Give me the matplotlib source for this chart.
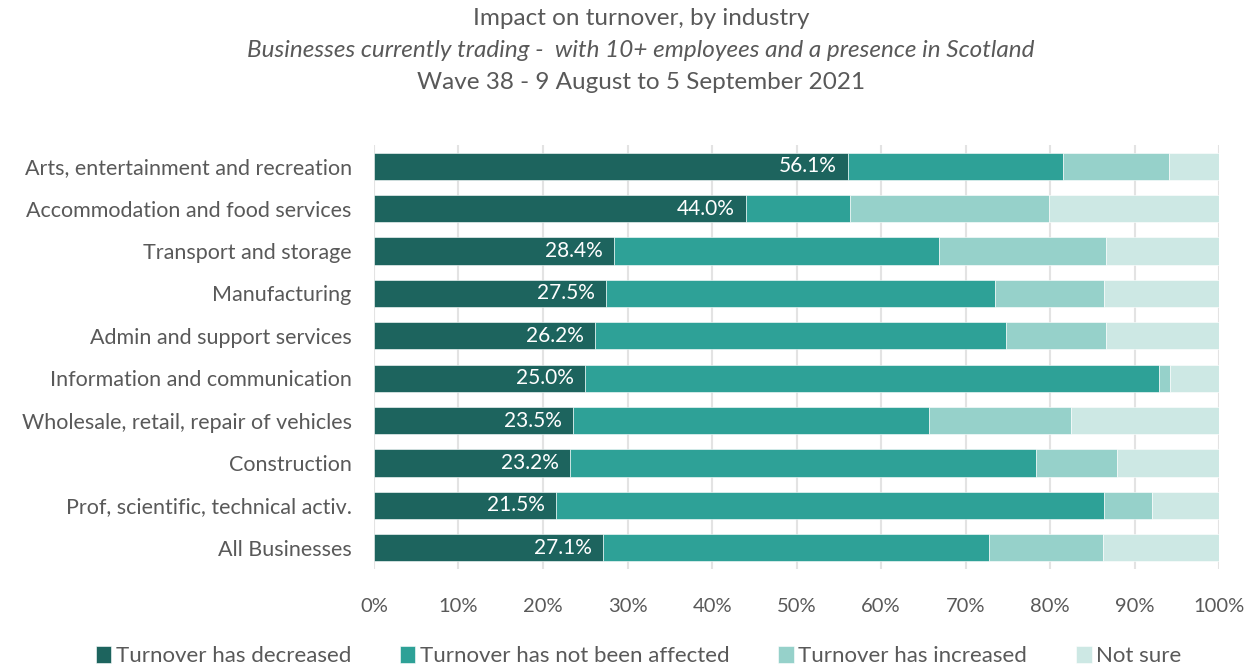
import numpy as np
import matplotlib
matplotlib.use('Agg')
from matplotlib import pyplot as plt

plt.rcParams['font.family'] = ['Lato', 'DejaVu Sans']

# data, top to bottom as in the chart
industries = ['Arts, entertainment and recreation', 'Accommodation and food services',
              'Transport and storage', 'Manufacturing', 'Admin and support services',
              'Information and communication', 'Wholesale, retail, repair of vehicles',
              'Construction', 'Prof, scientific, technical activ.', 'All Businesses']
decreased = [56.1, 44.0, 28.4, 27.5, 26.2, 25.0, 23.5, 23.2, 21.5, 27.1]
not_affected = [25.4, 12.3, 38.5, 46.0, 48.6, 67.9, 42.2, 55.1, 64.9, 45.7]
increased = [12.5, 23.5, 19.7, 12.9, 11.8, 1.3, 16.7, 9.6, 5.6, 13.4]
not_sure = [6.0, 20.2, 13.4, 13.6, 13.4, 5.8, 17.6, 12.1, 8.0, 13.8]

series_names = ['Turnover has decreased', 'Turnover has not been affected',
                'Turnover has increased', 'Not sure']
colours = ['#1d645e', '#2ea197', '#96d1ca', '#cde8e4']
grey = '#595959'

fig = plt.figure(figsize=(12.57, 6.64), dpi=100)
ax = fig.add_axes([0.2975, 0.143, 0.6725, 0.6386])

y = np.arange(len(industries))
left = np.zeros(len(industries))
for vals, name, col in zip([decreased, not_affected, increased, not_sure], series_names, colours):
    ax.barh(y, vals, left=left, height=0.64, color=col, label=name,
            edgecolor='white', linewidth=0.4, zorder=3)
    left += np.array(vals)

# labels on the dark segment
for yi, v in zip(y, decreased):
    ax.annotate('%.1f%%' % v, xy=(v, yi), xytext=(-8, 0), textcoords='offset points',
                ha='right', va='center', color='white', fontsize=15, zorder=4)

ax.set_xlim(0, 100)
ax.set_ylim(len(industries) - 0.5, -0.5)
ax.set_xticks(np.arange(0, 101, 10))
ax.set_xticklabels(['%d%%' % t for t in range(0, 101, 10)], fontsize=14.5, color=grey)
ax.set_yticks(y)
ax.set_yticklabels(industries, fontsize=15.5, color=grey)
ax.tick_params(length=0)
ax.tick_params(axis='x', pad=21)
ax.tick_params(axis='y', pad=16)
ax.grid(axis='x', color='#e3e3e3', linewidth=1.5, zorder=0)
for s in ax.spines.values():
    s.set_visible(False)

fig.text(0.51, 0.972, 'Impact on turnover, by industry', ha='center', va='center',
         fontsize=17.5, color=grey)
fig.text(0.51, 0.924, 'Businesses currently trading -  with 10+ employees and a presence in Scotland',
         ha='center', va='center', fontsize=17.5, color=grey, style='italic')
fig.text(0.51, 0.876, 'Wave 38 - 9 August to 5 September 2021', ha='center', va='center',
         fontsize=17.5, color=grey)

fig.legend(loc='lower center', bbox_to_anchor=(0.508, -0.033), ncol=4, frameon=False,
           fontsize=16, labelcolor=grey, handlelength=0.7, handleheight=0.8,
           handletextpad=0.2, columnspacing=2.2)

plt.savefig('out.png', dpi=100)
